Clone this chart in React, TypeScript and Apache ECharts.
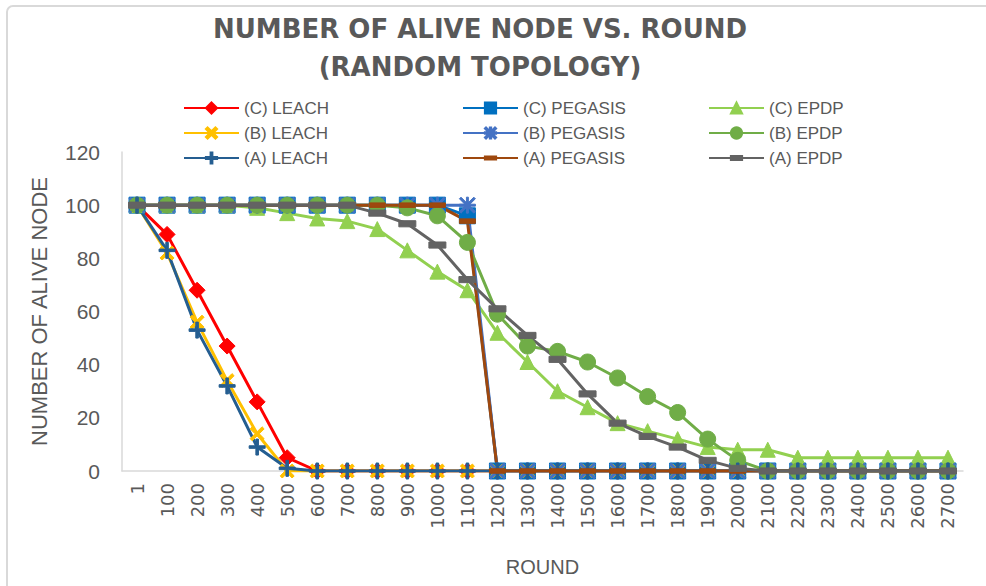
import React, { useEffect, useRef } from "react";
import * as echarts from "echarts";

const categories = ["1","100","200","300","400","500","600","700","800","900","1000","1100","1200","1300","1400","1500","1600","1700","1800","1900","2000","2100","2200","2300","2400","2500","2600","2700"];

const cLeach = [100,89,68,47,26,5,0,0,0,0,0,0,0,0,0,0,0,0,0,0,0,0,0,0,0,0,0,0];
const cPegasis = [100,100,100,100,100,100,100,100,100,100,100,96,0,0,0,0,0,0,0,0,0,0,0,0,0,0,0,0];
const cEpdp = [100,100,100,100,99,97,95,94,91,83,75,68,52,41,30,24,18,15,12,9,8,8,5,5,5,5,5,5];
const bLeach = [100,82,56,34,14,0,0,0,0,0,0,0,0,0,0,0,0,0,0,0,0,0,0,0,0,0,0,0];
const bPegasis = [100,100,100,100,100,100,100,100,100,100,100,100,0,0,0,0,0,0,0,0,0,0,0,0,0,0,0,0];
const bEpdp = [100,100,100,100,100,100,100,100,100,99,96,86,59,47,45,41,35,28,22,12,4,0,0,0,0,0,0,0];
const aLeach = [100,83,53,32,9,1,0,0,0,0,0,0,0,0,0,0,0,0,0,0,0,0,0,0,0,0,0,0];
const aPegasis = [100,100,100,100,100,100,100,100,100,100,100,94,0,0,0,0,0,0,0,0,0,0,0,0,0,0,0,0];
const aEpdp = [100,100,100,100,100,100,100,100,97,93,85,72,61,51,42,29,18,13,9,4,1,0,0,0,0,0,0,0];

const yTicks = { min: 0, max: 120, interval: 20 };

const SYM_X = "path://M1.5,0 L5,3.5 L8.5,0 L10,1.5 L6.5,5 L10,8.5 L8.5,10 L5,6.5 L1.5,10 L0,8.5 L3.5,5 L0,1.5 Z";
const SYM_PLUS = "path://M4.2,0 H5.8 V4.2 H10 V5.8 H5.8 V10 H4.2 V5.8 H0 V4.2 H4.2 Z";
const SYM_AST = "path://M4.4,0 H5.6 V10 H4.4 Z M0,4.4 H10 V5.6 H0 Z M1,0 L5,4 L9,0 L10,1 L6,5 L10,9 L9,10 L5,6 L1,10 L0,9 L4,5 L0,1 Z";
const SYM_DASH_THIN = "path://M0,0 M10,10 M0,3.6 H10 V6.4 H0 Z";
const SYM_DASH = "path://M0,0 M10,10 M0,3.2 H10 V6.8 H0 Z";

const TEXT = "#595959";
const FONT = "'Liberation Sans', Arial, sans-serif";

function mk(name: string, data: number[], color: string, symbol: string, size: any) {
  return {
    name,
    type: "line",
    data,
    symbol,
    symbolSize: size,
    showAllSymbol: true,
    lineStyle: { color, width: 3 },
    itemStyle: { color, borderColor: color, borderWidth: 1 },
    emphasis: { disabled: true },
  };
}

export default function App() {
  const ref = useRef<HTMLDivElement>(null);
  useEffect(() => {
    document.body.style.margin = "0";
    const chart = echarts.init(ref.current!, null, { renderer: "svg" });
    const legendBase = {
      orient: "vertical",
      top: 98,
      padding: 0,
      itemWidth: 55,
      itemHeight: 14,
      itemGap: 5,
      textStyle: { color: TEXT, fontSize: 17, fontFamily: FONT, lineHeight: 20 },
    };
    chart.setOption({
      animation: false,
      backgroundColor: "#ffffff",
      graphic: [
        { type: "rect", shape: { x: 7, y: 6, width: 1000, height: 600, r: 6 }, style: { fill: "none", stroke: "#d9d9d9", lineWidth: 2 }, silent: true },
        { type: "text", x: 480, y: 29, style: { text: "NUMBER OF ALIVE NODE VS. ROUND", fill: TEXT, font: "bold 26px 'DejaVu Sans', sans-serif", textAlign: "center", textVerticalAlign: "middle" } },
        { type: "text", x: 480, y: 67, style: { text: "(RANDOM TOPOLOGY)", fill: TEXT, font: "bold 26px 'DejaVu Sans', sans-serif", textAlign: "center", textVerticalAlign: "middle" } },
      ],
      legend: [
        { ...legendBase, left: 183, data: ["(C) LEACH", "(B) LEACH", "(A) LEACH"] },
        { ...legendBase, left: 462, data: ["(C) PEGASIS", "(B) PEGASIS", "(A) PEGASIS"] },
        { ...legendBase, left: 708, data: ["(C) EPDP", "(B) EPDP", "(A) EPDP"] },
      ],
      grid: { left: 122, right: 23, top: 152, bottom: 115, containLabel: false },
      xAxis: {
        type: "category",
        data: categories,
        boundaryGap: true,
        name: "ROUND",
        nameLocation: "middle",
        nameGap: 86,
        nameTextStyle: { color: TEXT, fontSize: 20, fontFamily: FONT },
        axisLine: { lineStyle: { color: "#d9d9d9", width: 1.5 } },
        axisTick: { show: false },
        axisLabel: { interval: 0, rotate: 90, margin: 12, color: TEXT, fontSize: 18, fontFamily: "'DejaVu Sans', sans-serif" },
        splitLine: { show: false },
      },
      yAxis: {
        type: "value",
        min: yTicks.min,
        max: yTicks.max,
        interval: yTicks.interval,
        name: "NUMBER OF ALIVE NODE",
        nameLocation: "middle",
        nameGap: 72,
        nameTextStyle: { color: TEXT, fontSize: 22, fontFamily: FONT },
        axisLine: { show: true, lineStyle: { color: "#d9d9d9", width: 1.5 } },
        axisTick: { show: false },
        axisLabel: { margin: 22, color: TEXT, fontSize: 21, fontFamily: FONT },
        splitLine: { show: false },
      },
      series: [
        mk("(C) LEACH", cLeach, "#FF0000", "diamond", 16),
        mk("(C) PEGASIS", cPegasis, "#0070C0", "rect", 16),
        mk("(C) EPDP", cEpdp, "#92D050", "triangle", 15),
        mk("(B) LEACH", bLeach, "#FFC000", SYM_X, 14),
        mk("(B) PEGASIS", bPegasis, "#4472C4", SYM_AST, 16),
        mk("(B) EPDP", bEpdp, "#70AD47", "circle", 16),
        mk("(A) LEACH", aLeach, "#255E91", SYM_PLUS, 16),
        mk("(A) PEGASIS", aPegasis, "#9E480E", SYM_DASH_THIN, 16),
        mk("(A) EPDP", aEpdp, "#636363", SYM_DASH, 17),
      ],
    });
    return () => chart.dispose();
  }, []);
  return <div ref={ref} style={{ position: "absolute", left: 0, top: 0, width: 986, height: 586 }} />;
}
